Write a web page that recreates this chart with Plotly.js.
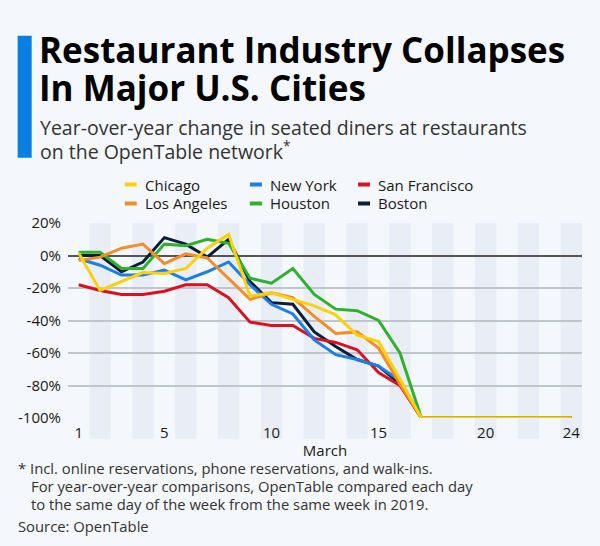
<!DOCTYPE html>
<html>
<head>
<meta charset="utf-8">
<script src="https://cdn.plot.ly/plotly-3.0.1.min.js"></script>
<style>
html,body{margin:0;padding:0;background:#f4f7fb;}
#chart{width:600px;height:546px;}
</style>
</head>
<body>
<div id="chart"></div>
<script>
// ---- Data (March 2020, day of month) ----
const days = [1,2,3,4,5,6,7,8,9,10,11,12,13,14,15,16,17,18,19,20,21,22,23,24];
const chicago      = [1.5,-21.5,-16,-10.5,-11,-8,4.5,13,-25,-23,-27,-31,-36.5,-49,-53,-76,-100,-100,-100,-100,-100,-100,-100,-100];
const losAngeles   = [-3,-1,4.5,7,-5,1,-1.5,-14,-27,-23,-26,-37.5,-48,-47,-57,-79,-100,-100,-100,-100,-100,-100,-100,-100];
const newYork      = [-2,-6,-12,-12,-9,-15,-10,-4,-18,-30,-36,-52,-61,-64,-68,-77,-100,-100,-100,-100,-100,-100,-100,-100];
const houston      = [2,2,-8,-8,7,6,10,7.5,-14,-17,-8,-24,-33,-34,-40,-60,-100,-100,-100,-100,-100,-100,-100,-100];
const sanFrancisco = [-18,-21.5,-24,-24,-22,-18,-18,-26,-41,-43,-43,-51,-53.5,-58,-72,-80,-100,-100,-100,-100,-100,-100,-100,-100];
const boston       = [0,0,-10,-4,11,7,-1,10,-16,-29,-30,-47,-56,-64,-68,-79,-100,-100,-100,-100,-100,-100,-100,-100];
const xTickVals = [1,5,10,15,20,24];
const xTickText = ['1','5','10','15','20','24'];
const yTickVals = [20,0,-20,-40,-60,-80,-100];
const yTickText = ['20%','0%','-20%','-40%','-60%','-80%','-100%'];

const titleLines = ['Restaurant Industry Collapses','In Major U.S. Cities'];
const subtitleLines = ['Year-over-year change in seated diners at restaurants','on the OpenTable network<sup>*</sup>'];
const footLines = ['* Incl. online reservations, phone reservations, and walk-ins.',
  'For year-over-year comparisons, OpenTable compared each day',
  'to the same day of the week from the same week in 2019.'];
const sourceText = 'Source: OpenTable';

// ---- Styling ----
const colors = {Chicago:'#fcd10b','Los Angeles':'#f28d2a','New York':'#1b7fe3',Houston:'#2eb22e','San Francisco':'#d9121f',Boston:'#0c1d38'};
const series = [
  ['Boston', boston], ['San Francisco', sanFrancisco], ['New York', newYork],
  ['Houston', houston], ['Los Angeles', losAngeles], ['Chicago', chicago]
];
const X0 = 0.5, X1 = 24.5;

const traces = series.map(([name, vals]) => ({
  x: days, y: vals, name: name, type: 'scatter', mode: 'lines',
  line: {color: colors[name], width: 3}, showlegend: false, hoverinfo: 'skip'
}));

const W = 600, H = 546, L = 68.3, R = 581.7, T = 223.2, B = 418.2;
const px = x => (x - L) / (R - L);
const py = y => (B - y) / (B - T);
const FONT = '"Open Sans", sans-serif';

const shapes = [];
// alternating day stripes (even days)
for (let d = 2; d <= 24; d += 2) {
  shapes.push({type:'rect', xref:'x', yref:'paper', x0:d-0.5, x1:d+0.5, y0:py(439), y1:py(223.2),
    fillcolor:'#e9eef6', line:{width:0}, layer:'below'});
}
// blue accent bar
shapes.push({type:'rect', xref:'paper', yref:'paper', x0:px(18), x1:px(32), y0:py(158), y1:py(36),
  fillcolor:'#0a7fe2', line:{width:0}});

const annotations = [];
function txt(text, x, y, size, color, extra) {
  annotations.push(Object.assign({text:text, xref:'paper', yref:'paper', x:px(x), y:py(y),
    xanchor:'left', yanchor:'middle', showarrow:false, font:{family:FONT, size:size, color:color}}, extra||{}));
}
txt('<b>'+titleLines[0]+'</b>', 37, 50, 35, '#000000');
txt('<b>'+titleLines[1]+'</b>', 37, 88, 35, '#000000');
txt(subtitleLines[0], 38, 128, 19.5, '#333333');
txt(subtitleLines[1], 38, 151, 19.5, '#333333');

// custom legend
const legendItems = [['Chicago',125,184.7],['New York',250,184.7],['San Francisco',358,184.7],
                     ['Los Angeles',125,203.7],['Houston',250,203.7],['Boston',358,203.7]];
legendItems.forEach(([name,x,y]) => {
  shapes.push({type:'rect', xref:'paper', yref:'paper', x0:px(x), x1:px(x+12), y0:py(y+2), y1:py(y-2),
    fillcolor:colors[name], line:{width:0}});
  txt(name, x+18, y, 15, '#1a1a1a');
});

txt(footLines[0], 16, 468, 14.8, '#333333');
txt(footLines[1], 29, 486, 14.8, '#333333');
txt(footLines[2], 29, 504, 14.8, '#333333');
txt(sourceText, 16, 526, 14.8, '#333333');

const layout = {
  width: W, height: H,
  margin: {l: L, r: W - R, t: T, b: H - B, pad: 0},
  paper_bgcolor: '#f4f7fb', plot_bgcolor: 'rgba(0,0,0,0)',
  showlegend: false,
  font: {family: FONT, color: '#1a1a1a'},
  xaxis: {range: [X0, X1], tickmode: 'array', tickvals: xTickVals, ticktext: xTickText, showgrid: false, zeroline: false,
    showline: false, ticks: '', tickfont: {size: 15, color: '#1a1a1a'}, ticklabelstandoff: 4,
    title: {text: 'March', font: {size: 15, color: '#1a1a1a'}, standoff: 4}, fixedrange: true},
  yaxis: {range: [-100, 20], tickmode: 'array', tickvals: yTickVals, ticktext: yTickText,
    showgrid: true, gridcolor: '#c1c6cd', gridwidth: 2,
    zeroline: true, zerolinecolor: '#555555', zerolinewidth: 2, showline: false, ticks: '',
    tickfont: {size: 15, color: '#1a1a1a'}, ticklabelstandoff: 6, fixedrange: true},
  shapes: shapes,
  annotations: annotations
};

Plotly.newPlot('chart', traces, layout, {displayModeBar: false, staticPlot: true});
</script>
</body>
</html>
